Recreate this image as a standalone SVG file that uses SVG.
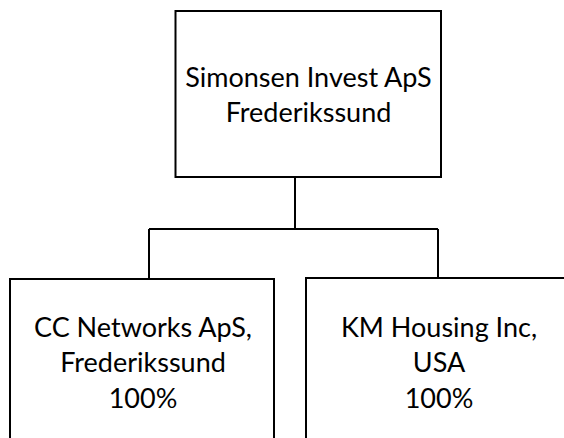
<svg xmlns="http://www.w3.org/2000/svg" width="564" height="438" viewBox="0 0 564 438">
  <style>
    .box { fill: #ffffff; stroke: #000000; stroke-width: 2; }
    .conn { fill: none; stroke: #000000; stroke-width: 2; }
    .lbl { font-family: Lato, "Liberation Sans", sans-serif; font-size: 27px; fill: #000000; text-anchor: middle; }
  </style>
  <rect width="564" height="438" fill="#ffffff"/>
  <g id="connectors">
    <path class="conn" d="M295 177 V229 M149 229 H438 M149 229 V279 M438 229 V278"/>
  </g>
  <g id="node-simonsen">
    <rect class="box" x="175.5" y="11" width="265.5" height="166"/>
    <text class="lbl" x="308.5" y="86.5">Simonsen Invest ApS</text>
    <text class="lbl" x="308.5" y="121.5">Frederikssund</text>
  </g>
  <g id="node-cc">
    <rect class="box" x="10" y="279" width="264" height="180"/>
    <text class="lbl" x="143" y="337">CC Networks ApS,</text>
    <text class="lbl" x="143" y="372">Frederikssund</text>
    <text class="lbl" x="143" y="408">100%</text>
  </g>
  <g id="node-km">
    <rect class="box" x="306" y="278" width="268" height="180"/>
    <text class="lbl" x="439" y="337">KM Housing Inc,</text>
    <text class="lbl" x="439" y="372">USA</text>
    <text class="lbl" x="439" y="408">100%</text>
  </g>
</svg>
